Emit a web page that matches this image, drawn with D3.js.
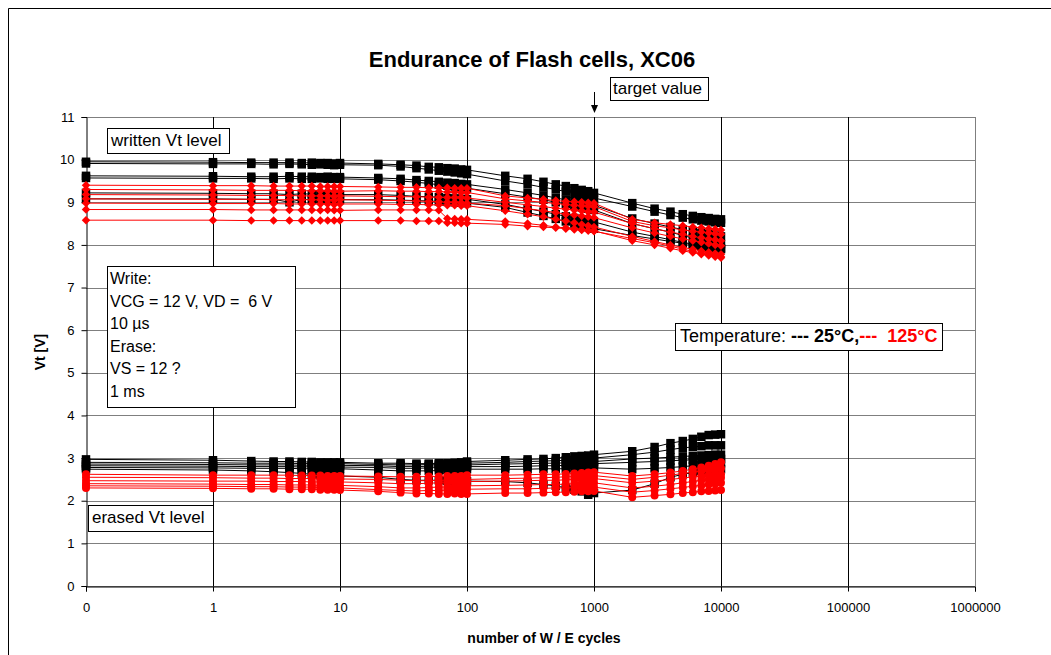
<!DOCTYPE html>
<html>
<head>
<meta charset="utf-8">
<script src="https://cdn.jsdelivr.net/npm/d3@7"></script>
<style>
  body { margin: 0; background: #fff; }
  text { font-family: "Liberation Sans", Arial, sans-serif; }
</style>
</head>
<body>
<div id="chart"></div>
<script>
// W/E cycles (0 cycles plotted at 0.1 on the log axis, labelled "0")
const cycles = [0.1, 1, 2, 3, 4, 5, 6, 7, 8, 9, 10,
  20, 30, 40, 50, 60, 70, 80, 90, 100,
  200, 300, 400, 500, 600, 700, 800, 900, 1000,
  2000, 3000, 4000, 5000, 6000, 7000, 8000, 9000, 10000];

const xTicks = [0.1, 1, 10, 100, 1000, 10000, 100000, 1000000];
const xTickLabels = ["0", "1", "10", "100", "1000", "10000", "100000", "1000000"];
const yTicks = [0, 1, 2, 3, 4, 5, 6, 7, 8, 9, 10, 11];

// written Vt level, 25 C
const written25 = [
  [9.95, 9.94, 9.93, 9.93, 9.93, 9.92, 9.93, 9.92, 9.92, 9.91, 9.92, 9.90, 9.88, 9.86, 9.83, 9.82, 9.80, 9.79, 9.77, 9.76, 9.62, 9.55, 9.48, 9.42, 9.38, 9.33, 9.29, 9.26, 9.22, 8.98, 8.85, 8.78, 8.72, 8.68, 8.65, 8.63, 8.61, 8.60],
  [9.91, 9.90, 9.90, 9.89, 9.90, 9.89, 9.88, 9.89, 9.88, 9.87, 9.88, 9.87, 9.84, 9.80, 9.77, 9.74, 9.72, 9.70, 9.68, 9.66, 9.50, 9.42, 9.35, 9.30, 9.25, 9.20, 9.17, 9.14, 9.10, 8.90, 8.78, 8.70, 8.64, 8.60, 8.57, 8.55, 8.53, 8.52],
  [9.62, 9.61, 9.60, 9.60, 9.61, 9.60, 9.60, 9.59, 9.60, 9.59, 9.59, 9.57, 9.55, 9.52, 9.50, 9.48, 9.46, 9.45, 9.43, 9.42, 9.30, 9.22, 9.16, 9.10, 9.06, 9.02, 8.99, 8.96, 8.93, 8.62, 8.50, 8.42, 8.36, 8.32, 8.28, 8.25, 8.22, 8.20],
  [9.57, 9.56, 9.56, 9.55, 9.56, 9.55, 9.55, 9.56, 9.55, 9.55, 9.55, 9.53, 9.50, 9.47, 9.44, 9.41, 9.39, 9.37, 9.35, 9.33, 9.20, 9.12, 9.06, 9.00, 8.96, 8.92, 8.88, 8.85, 8.82, 8.50, 8.38, 8.30, 8.22, 8.16, 8.12, 8.08, 8.05, 8.02],
  [9.22, 9.21, 9.20, 9.20, 9.18, 9.20, 9.19, 9.19, 9.18, 9.19, 9.18, 9.18, 9.16, 9.14, 9.13, 9.12, 9.10, 9.09, 9.08, 9.07, 8.95, 8.85, 8.78, 8.72, 8.67, 8.63, 8.60, 8.57, 8.54, 8.30, 8.20, 8.12, 8.06, 8.02, 7.98, 7.95, 7.93, 7.92],
  [9.08, 9.08, 9.07, 9.07, 9.00, 9.07, 9.06, 9.07, 9.06, 9.06, 9.06, 9.06, 9.05, 9.04, 9.03, 9.02, 9.01, 9.00, 8.99, 8.98, 8.88, 8.76, 8.68, 8.61, 8.55, 8.50, 8.46, 8.42, 8.38, 8.22, 8.14, 8.08, 8.04, 8.00, 7.97, 7.95, 7.93, 7.90]
];

// written Vt level, 125 C
const written125 = [
  [9.40, 9.39, 9.39, 9.38, 9.38, 9.38, 9.38, 9.37, 9.37, 9.37, 9.37, 9.36, 9.35, 9.35, 9.34, 9.34, 9.34, 9.33, 9.33, 9.33, 9.15, 9.10, 9.07, 9.04, 9.02, 9.01, 9.00, 8.99, 8.98, 8.60, 8.52, 8.48, 8.45, 8.42, 8.40, 8.38, 8.37, 8.35],
  [9.30, 9.29, 9.28, 9.28, 9.28, 9.27, 9.27, 9.27, 9.27, 9.26, 9.26, 9.27, 9.26, 9.26, 9.25, 9.25, 9.24, 9.24, 9.23, 9.23, 9.08, 9.03, 9.00, 8.97, 8.95, 8.93, 8.92, 8.91, 8.90, 8.55, 8.45, 8.40, 8.35, 8.32, 8.30, 8.28, 8.26, 8.25],
  [9.18, 9.17, 9.16, 9.16, 9.16, 9.15, 9.15, 9.15, 9.15, 9.14, 9.15, 9.14, 9.13, 9.13, 9.12, 9.12, 9.11, 9.11, 9.11, 9.10, 9.00, 8.94, 8.90, 8.86, 8.84, 8.82, 8.80, 8.78, 8.77, 8.50, 8.38, 8.30, 8.25, 8.20, 8.17, 8.14, 8.12, 8.10],
  [9.08, 9.07, 9.07, 9.06, 9.06, 9.06, 9.06, 9.06, 9.05, 9.05, 9.06, 9.05, 9.04, 9.03, 9.02, 9.01, 9.00, 9.00, 8.99, 8.98, 8.92, 8.85, 8.80, 8.76, 8.72, 8.70, 8.68, 8.66, 8.64, 8.40, 8.28, 8.20, 8.14, 8.10, 8.06, 8.03, 8.00, 7.98],
  [8.98, 8.97, 8.97, 8.97, 8.96, 8.96, 8.96, 8.96, 8.96, 8.95, 8.96, 8.96, 8.95, 8.95, 8.94, 8.94, 8.93, 8.93, 8.92, 8.92, 8.80, 8.72, 8.66, 8.60, 8.56, 8.52, 8.48, 8.45, 8.42, 8.20, 8.08, 8.00, 7.94, 7.90, 7.86, 7.83, 7.80, 7.78],
  [8.83, 8.83, 8.82, 8.82, 8.82, 8.82, 8.82, 8.81, 8.82, 8.81, 8.81, 8.82, 8.82, 8.82, 8.82, 8.81, 8.62, 8.61, 8.60, 8.60, 8.55, 8.50, 8.46, 8.42, 8.40, 8.38, 8.36, 8.34, 8.32, 8.15, 8.05, 7.97, 7.90, 7.85, 7.81, 7.78, 7.75, 7.72],
  [8.58, 8.58, 8.57, 8.57, 8.57, 8.57, 8.57, 8.57, 8.57, 8.57, 8.57, 8.57, 8.57, 8.56, 8.56, 8.56, 8.52, 8.52, 8.51, 8.51, 8.48, 8.44, 8.42, 8.40, 8.38, 8.36, 8.35, 8.34, 8.33, 8.10, 8.00, 7.92, 7.86, 7.82, 7.78, 7.75, 7.72, 7.70]
];

// erased Vt level, 25 C
const erased25 = [
  [2.97, 2.95, 2.93, 2.92, 2.92, 2.91, 2.91, 2.90, 2.90, 2.90, 2.90, 2.88, 2.88, 2.87, 2.87, 2.88, 2.88, 2.89, 2.90, 2.92, 2.95, 2.97, 2.98, 3.00, 3.02, 3.04, 3.05, 3.06, 3.08, 3.16, 3.26, 3.35, 3.40, 3.45, 3.50, 3.54, 3.55, 3.56],
  [2.90, 2.89, 2.88, 2.88, 2.88, 2.87, 2.88, 2.87, 2.87, 2.87, 2.87, 2.85, 2.84, 2.84, 2.85, 2.86, 2.86, 2.87, 2.87, 2.88, 2.90, 2.92, 2.93, 2.94, 2.95, 2.96, 2.97, 2.98, 3.00, 3.08, 3.14, 3.20, 3.24, 3.26, 3.28, 3.30, 3.30, 3.30],
  [2.86, 2.85, 2.84, 2.84, 2.84, 2.83, 2.84, 2.83, 2.83, 2.83, 2.83, 2.82, 2.80, 2.80, 2.81, 2.82, 2.82, 2.83, 2.83, 2.84, 2.86, 2.87, 2.88, 2.88, 2.89, 2.90, 2.90, 2.91, 2.92, 2.98, 3.00, 3.02, 3.04, 3.05, 3.06, 3.07, 3.08, 3.08],
  [2.82, 2.81, 2.80, 2.80, 2.80, 2.79, 2.80, 2.79, 2.79, 2.79, 2.79, 2.78, 2.76, 2.76, 2.77, 2.78, 2.78, 2.78, 2.79, 2.80, 2.80, 2.81, 2.82, 2.82, 2.83, 2.84, 2.85, 2.86, 2.87, 2.90, 2.92, 2.94, 2.95, 2.96, 2.97, 2.98, 2.98, 2.98],
  [2.78, 2.77, 2.76, 2.76, 2.76, 2.75, 2.75, 2.75, 2.75, 2.74, 2.75, 2.72, 2.70, 2.70, 2.70, 2.71, 2.72, 2.72, 2.73, 2.74, 2.74, 2.74, 2.75, 2.75, 2.75, 2.76, 2.76, 2.76, 2.77, 2.74, 2.76, 2.78, 2.80, 2.82, 2.84, 2.86, 2.86, 2.88],
  [2.74, 2.72, 2.70, 2.68, 2.66, 2.64, 2.62, 2.60, 2.60, 2.58, 2.58, 2.55, 2.50, 2.48, 2.48, 2.48, 2.47, 2.47, 2.46, 2.46, 2.45, 2.42, 2.38, 2.35, 2.30, 2.26, 2.22, 2.14, 2.18, 2.25, 2.40, 2.55, 2.62, 2.66, 2.70, 2.72, 2.73, 2.74]
];

// erased Vt level, 125 C
const erased125 = [
  [2.62, 2.60, 2.60, 2.60, 2.60, 2.59, 2.59, 2.59, 2.58, 2.58, 2.58, 2.57, 2.56, 2.56, 2.57, 2.57, 2.58, 2.58, 2.58, 2.60, 2.60, 2.61, 2.62, 2.62, 2.63, 2.64, 2.65, 2.66, 2.67, 2.58, 2.62, 2.66, 2.70, 2.74, 2.78, 2.82, 2.86, 2.90],
  [2.55, 2.54, 2.53, 2.53, 2.52, 2.52, 2.52, 2.51, 2.51, 2.51, 2.51, 2.50, 2.48, 2.47, 2.47, 2.48, 2.48, 2.49, 2.50, 2.50, 2.52, 2.53, 2.54, 2.55, 2.56, 2.57, 2.58, 2.58, 2.59, 2.50, 2.55, 2.60, 2.64, 2.67, 2.70, 2.72, 2.74, 2.76],
  [2.47, 2.46, 2.46, 2.45, 2.45, 2.45, 2.44, 2.44, 2.44, 2.44, 2.44, 2.42, 2.40, 2.40, 2.41, 2.42, 2.42, 2.43, 2.44, 2.45, 2.46, 2.47, 2.48, 2.48, 2.49, 2.50, 2.50, 2.51, 2.52, 2.42, 2.46, 2.50, 2.53, 2.56, 2.58, 2.60, 2.61, 2.62],
  [2.40, 2.39, 2.38, 2.38, 2.37, 2.37, 2.37, 2.36, 2.36, 2.36, 2.36, 2.33, 2.30, 2.30, 2.31, 2.32, 2.32, 2.33, 2.34, 2.35, 2.36, 2.37, 2.38, 2.38, 2.39, 2.40, 2.40, 2.41, 2.42, 2.30, 2.34, 2.38, 2.42, 2.45, 2.48, 2.50, 2.52, 2.54],
  [2.35, 2.34, 2.33, 2.33, 2.32, 2.32, 2.32, 2.31, 2.31, 2.31, 2.30, 2.26, 2.24, 2.23, 2.24, 2.24, 2.25, 2.26, 2.26, 2.27, 2.28, 2.28, 2.29, 2.30, 2.30, 2.31, 2.31, 2.32, 2.32, 2.20, 2.24, 2.28, 2.31, 2.34, 2.36, 2.38, 2.40, 2.42],
  [2.30, 2.29, 2.28, 2.28, 2.27, 2.27, 2.27, 2.26, 2.26, 2.26, 2.25, 2.22, 2.19, 2.17, 2.17, 2.16, 2.16, 2.17, 2.16, 2.16, 2.18, 2.18, 2.19, 2.20, 2.20, 2.21, 2.22, 2.22, 2.23, 2.08, 2.12, 2.15, 2.18, 2.20, 2.22, 2.23, 2.24, 2.25]
];

const writeNotes = ["Write:", "VCG = 12 V, VD =  6 V", "10 \u00b5s", "Erase:", "VS = 12 ?", "1 ms"];

const width = 1051, height = 655;
const plot = { left: 86, right: 975, top: 117, bottom: 586 };

const svg = d3.select("#chart").append("svg")
  .attr("width", width)
  .attr("height", height)
  .style("background-color", "white");

// outer chart frame (only top and left edges visible)
svg.append("path")
  .attr("d", `M8.5,${height} V8.5 H${width}`)
  .attr("fill", "none").attr("stroke", "#000").attr("stroke-width", 1);

const x = d3.scaleLog().domain([0.1, 1e6]).range([plot.left, plot.right]);
const y = d3.scaleLinear().domain([0, 11]).range([plot.bottom, plot.top]);

// grid
svg.append("g").selectAll("line").data(yTicks).join("line")
  .attr("x1", plot.left).attr("x2", plot.right)
  .attr("y1", d => Math.round(y(d)) + 0.5).attr("y2", d => Math.round(y(d)) + 0.5)
  .attr("stroke", "#7f7f7f").attr("stroke-width", 1);
svg.append("g").selectAll("line").data(xTicks.slice(1)).join("line")
  .attr("x1", d => Math.round(x(d)) + 0.5).attr("x2", d => Math.round(x(d)) + 0.5)
  .attr("y1", plot.top).attr("y2", plot.bottom)
  .attr("stroke", d => d === 1e6 ? "#7f7f7f" : "#000").attr("stroke-width", 1);

// axes
const yAxis = svg.append("g")
  .attr("transform", `translate(${plot.left + 0.5},0)`)
  .call(d3.axisLeft(y).tickValues(yTicks).tickSize(5).tickPadding(7).tickFormat(d3.format("d")));
const xAxis = svg.append("g")
  .attr("transform", `translate(0,${plot.bottom + 0.5})`)
  .call(d3.axisBottom(x).tickValues(xTicks).tickSize(5).tickPadding(11)
    .tickFormat((d, i) => xTickLabels[i]));
[yAxis, xAxis].forEach(g => {
  g.select(".domain").attr("stroke", "#000");
  g.selectAll("text").attr("font-size", 13).attr("fill", "#000")
    .attr("font-family", "Liberation Sans, Arial, sans-serif");
});

// series
const line = d3.line().x((d, i) => x(cycles[i])).y(d => y(d));
const groups = [
  { data: written25, color: "#000", symbol: d3.symbolSquare, size: 72, rotate: 0 },
  { data: erased25, color: "#000", symbol: d3.symbolSquare, size: 72, rotate: 0 },
  { data: written125, color: "#ff0000", symbol: d3.symbolSquare, size: 36, rotate: 45 },
  { data: erased125, color: "#ff0000", symbol: d3.symbolCircle, size: 50, rotate: 0 }
];
groups.forEach(gr => {
  gr.data.forEach(series => {
    const g = svg.append("g");
    g.append("path").attr("d", line(series))
      .attr("fill", "none").attr("stroke", gr.color).attr("stroke-width", 1);
    g.selectAll("path.m").data(series).join("path").attr("class", "m")
      .attr("d", d3.symbol(gr.symbol, gr.size))
      .attr("transform", (d, i) => `translate(${x(cycles[i])},${y(d)}) rotate(${gr.rotate})`)
      .attr("fill", gr.color);
  });
});

// titles
svg.append("text").attr("x", 532).attr("y", 67).attr("text-anchor", "middle")
  .attr("font-size", 22).attr("font-weight", "bold").text("Endurance of Flash cells, XC06");
svg.append("text").attr("x", 544).attr("y", 643).attr("text-anchor", "middle")
  .attr("font-size", 14).attr("font-weight", "bold").text("number of W / E cycles");
svg.append("text").attr("transform", "translate(45,352) rotate(-90)").attr("text-anchor", "middle")
  .attr("font-size", 14).attr("font-weight", "bold").text("Vt [V]");

// annotation boxes
function box(x0, y0, w, h) {
  svg.append("rect").attr("x", x0 + 0.5).attr("y", y0 + 0.5).attr("width", w).attr("height", h)
    .attr("fill", "#fff").attr("stroke", "#000").attr("stroke-width", 1);
}
box(107, 128, 122, 25);
svg.append("text").attr("x", 111).attr("y", 146).attr("font-size", 17).text("written Vt level");
box(88, 505, 125, 26);
svg.append("text").attr("x", 92).attr("y", 523).attr("font-size", 17).text("erased Vt level");

box(107, 266, 188, 141);
svg.append("g").selectAll("text").data(writeNotes).join("text")
  .attr("x", 110).attr("y", (d, i) => 284 + i * 22.5)
  .attr("font-size", 16).style("white-space", "pre").text(d => d);

box(675, 323, 267, 27);
const temp = svg.append("text").attr("x", 680).attr("y", 342).attr("font-size", 18).style("white-space", "pre");
temp.append("tspan").text("Temperature: ");
temp.append("tspan").attr("font-weight", "bold").text("--- 25\u00b0C,");
temp.append("tspan").attr("font-weight", "bold").attr("fill", "#ff0000").text("---  125\u00b0C");

// target value marker
box(610, 77, 98, 23);
svg.append("text").attr("x", 613).attr("y", 94).attr("font-size", 17).text("target value");
const ax = Math.round(x(1000)) + 0.5;
svg.append("line").attr("x1", ax).attr("x2", ax).attr("y1", 92).attr("y2", 106)
  .attr("stroke", "#000").attr("stroke-width", 1);
svg.append("path").attr("d", `M${ax - 3.5},105 L${ax + 3.5},105 L${ax},113 Z`).attr("fill", "#000");
</script>
</body>
</html>
